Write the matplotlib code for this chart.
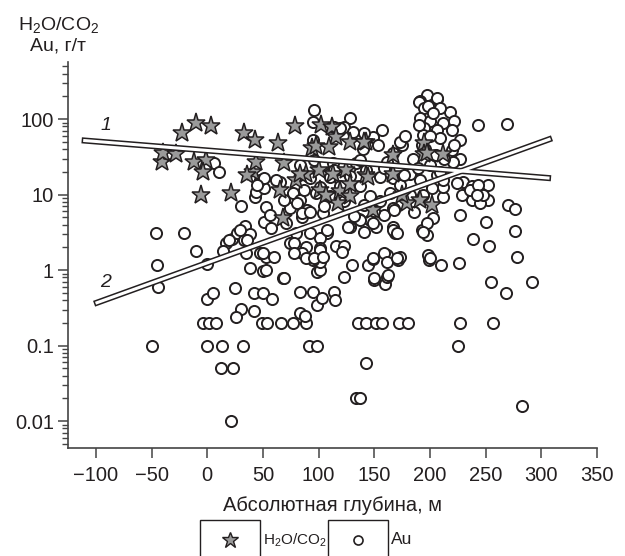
import matplotlib
matplotlib.use('Agg')
import matplotlib.pyplot as plt
from matplotlib.patches import Rectangle
from matplotlib.lines import Line2D
from matplotlib.ticker import FixedLocator, FixedFormatter, LogLocator, NullFormatter

plt.rcParams['font.family'] = ['Liberation Sans', 'DejaVu Sans']
plt.rcParams['mathtext.fontset'] = 'custom'
plt.rcParams['mathtext.rm'] = 'Liberation Sans'
plt.rcParams['mathtext.it'] = 'Liberation Sans:italic'

INK = '#231f20'

# H2O/CO2 ratio vs absolute depth (stars)
h2o_x = [-41, -40, -28, -23, -10, 3, -12, -1, -4, -6, 21, 33, 43, 64, 69, 41, 65, 68,
         79, 80, 94, 89, 102, 112, 116, 128, 143, 98, 109, 167, 195, 195, 212, 100, 113,
         125, 143, 167, 101, 119, 128, 117, 149, 179, 191, 202, 36, 83, 141, 197, 144,
         107, 175, 44, 128]
h2o_y = [27, 36, 35, 65, 89, 81, 27, 29, 20, 10, 10.5, 65, 53, 48, 26, 20, 11.5, 4.9,
         80, 15.5, 41, 19, 83, 78, 58, 50, 50, 44, 43, 33, 48, 35, 35, 21, 19,
         21, 18, 19, 11.5, 11, 9.6, 7.7, 6.2, 7.7, 8.5, 7.3, 18, 19, 50, 36, 17,
         9.8, 9.8, 27, 14]

# Au content, g/t (circles)
au_x = [-50, -45, -44, -46, -21, -10, 0, 0, 5, -4, 2, 8, 0, 13, 32, 12, 23, 21, 25, 38,
        50, 68, 42, 50, 58, 30, 26, 42, 49, 54, 66, 77, 89, 83, 88, 83, 95, 99, 91, 99,
        99, 101, 103, 114, 115, 123, 130, 144, 150, 160, 161, 135, 143, 152, 157, 172,
        180, 227, 257, 225, 143, 134, 137, 283, 255, 268, 292, 210, 199, 226, 171, 278,
        69,
        243, 269, 96, 128, 157, 175, 197, 191, 206, 218, 230, 238, 245, 252, 238, 252,
        270, 276, 227, 250, 276, 239, 253, 198, 173, 161, 149, 197, 193, 169, 167, 141,
        128, 108, 101, 89, 101, 116, 123, 101, 203, 212, 212, 168, 159, 136, 146, 152,
        200, 197, 194, 245,
        30, 53, 43, 22, 17, 27, 34, 38, 33, 14, 51, 57, 35, 47, 53, 60, 6, 11, 44, 51,
        47, 65, 77, 83, 98, 20, 29, 36, 50, 53, 74, 80, 92, 85, 95, 95, 95, 74, 85, 90,
        81, 85, 92, 104, 71, 78, 78, 89, 101, 96, 104, 121, 108, 126, 137, 149, 167, 170,
        149, 150, 162, 159, 161, 170, 167,
        206, 190, 195, 209, 191, 200, 212, 222, 195, 206, 220, 227, 194, 209, 220, 227,
        221, 173, 149, 153, 167, 185, 141, 161, 182, 206, 143, 167, 155, 212, 224, 200,
        193, 123, 131, 114, 104, 110, 119, 51, 62, 128, 134, 113,
        83, 92, 101, 110, 119, 128, 137, 146, 155, 164, 123, 105, 141, 150, 132, 87, 69,
        56, 45, 114, 96, 137, 159, 173, 182, 177, 168, 186, 191, 194, 189, 202, 209, 213,
        222, 229, 236, 243, 248, 242, 198, 203, 200, 196, 205, 190, 119, 140, 178]
au_y = [0.1, 1.16, 0.6, 3.1, 3.1, 1.8, 1.2, 0.41, 0.5, 0.2, 0.2, 0.2, 0.1, 0.1, 0.1,
        0.05, 0.05, 0.01, 0.58, 1.06, 0.97, 0.78, 0.5, 0.5, 0.41, 0.31, 0.24, 0.29, 0.2,
        0.2, 0.2, 0.2, 0.2, 0.27, 0.25, 0.51, 0.51, 0.34, 0.1, 0.1, 0.94, 1.0, 0.43, 0.51,
        0.4, 0.81, 1.16, 1.16, 0.74, 0.65, 0.81, 0.2, 0.2, 0.2, 0.2, 0.2, 0.2, 0.2, 0.2,
        0.1, 0.059, 0.02, 0.02, 0.016, 0.69, 0.5, 0.69, 1.16, 1.35, 1.24, 1.35, 1.5,
        0.78,
        83, 86, 131, 103, 71, 46, 210, 175, 185, 123, 14.6, 13, 12, 13.5, 8.5, 8.5,
        7.3, 6.4, 5.3, 4.3, 3.3, 2.6, 2.1, 1.6, 1.5, 1.6, 1.4, 2.9, 3.4, 3.1, 3.7, 3.2,
        3.7, 3.1, 2.65, 2.0, 1.95, 2.1, 2.1, 1.28, 4.9, 9.3, 12.6, 6.4, 5.3, 4.7, 4.6, 3.7,
        1.44, 4.2, 3.2, 7.7,
        7.0, 6.8, 9.3, 2.6, 2.3, 3.1, 3.8, 3.0, 2.5, 1.8, 4.3, 3.6, 1.7, 1.7, 1.5, 1.5,
        26, 20, 10.8, 12.2, 15.5, 14.6, 10.5, 8.5, 10.5, 2.5, 3.4, 2.5, 1.7, 1.0, 2.3,
        3.1, 3.1, 1.7, 1.36, 91, 53, 6.6, 5.0, 6.2,
        7.7, 5.7, 5.9, 5.7, 4.2, 2.3, 1.7, 1.44, 1.84, 1.44, 1.49, 1.73, 3.4, 3.7, 4.6,
        4.2, 3.4, 3.1, 1.44, 0.78, 0.86, 1.68, 1.28, 1.44, 6.6,
        190, 168, 139, 139, 103, 95, 89, 95, 76, 71, 71, 53, 61, 56, 39, 30, 27, 50, 58,
        45, 36, 30, 65, 27, 19, 18, 21, 16.6, 17, 15.5, 14.2, 25, 45, 78, 67, 78, 25,
        17, 15.5, 16.5, 15.5, 23, 26, 26,
        24.6, 16.6, 12.6, 9.5, 12.9, 17.6, 12.9, 9.5, 8.2, 10.5, 8.2, 7.0, 7.3, 6.0, 5.2,
        11.5, 8.5, 5.3, 13.4, 21, 28.6, 28.6, 22.4, 13.4, 9.8, 18, 6.2, 5.9, 15.6, 9.8,
        22.4, 12.2, 19.9, 30, 45, 9.8, 11.5, 13.4, 9.8, 9.8, 150, 120, 60, 40, 33, 83,
        76, 40, 60]

# trend lines 1 (H2O/CO2) and 2 (Au)
trend1_x = [-110, 306]
trend1_y = [52, 16.6]
trend2_x = [-99, 307]
trend2_y = [0.37, 54]

fig = plt.figure(figsize=(6.25, 5.56), dpi=100)
ax = fig.add_axes([0.1088, 0.1942, 0.8464, 0.6942])

ax.plot(au_x, au_y, 'o', ms=8, mfc='white', mec=INK, mew=1.4, ls='none', zorder=2)
ax.plot(h2o_x, h2o_y, '*', ms=14, mfc='#9a9a9a', mec=INK, mew=1.1, ls='none', zorder=3)

for tx, ty in [(trend1_x, trend1_y), (trend2_x, trend2_y)]:
    ax.plot(tx, ty, color=INK, lw=4.4, solid_capstyle='projecting', zorder=4)
    ax.plot(tx, ty, color='white', lw=2.2, solid_capstyle='projecting', zorder=5)

ax.text(-91, 83, '1', fontsize=14, style='italic', color=INK, ha='center', va='center')
ax.text(-91, 0.69, '2', fontsize=14, style='italic', color=INK, ha='center', va='center')

ax.set_yscale('log')
ax.set_xlim(-125, 350)
ax.set_ylim(0.0044, 570)

ax.set_xticks([-100, -50, 0, 50, 100, 150, 200, 250, 300, 350])
ax.yaxis.set_major_locator(FixedLocator([0.01, 0.1, 1, 10, 100]))
ax.yaxis.set_major_formatter(FixedFormatter(['0.01', '0.1', '1', '10', '100']))
ax.yaxis.set_minor_locator(LogLocator(base=10, subs=range(2, 10)))
ax.yaxis.set_minor_formatter(NullFormatter())

ax.spines['top'].set_visible(False)
ax.spines['right'].set_visible(False)
for s in ['left', 'bottom']:
    ax.spines[s].set_color('#444444')
    ax.spines[s].set_linewidth(1.2)

ax.tick_params(axis='both', which='major', length=7, width=1.1, color='#444444',
               labelsize=14.5, labelcolor=INK)
ax.tick_params(axis='x', which='major', pad=6)
ax.tick_params(axis='y', which='major', pad=3)
ax.tick_params(axis='y', which='minor', length=4, width=1.0, color='#444444')

ax.set_xlabel('Абсолютная глубина, м', fontsize=14.5, color=INK, labelpad=8)

fig.text(0.093, 0.955, r'H$_\mathregular{2}$O/CO$_\mathregular{2}$', fontsize=14,
         color=INK, ha='center', va='center')
fig.text(0.093, 0.918, 'Au, г/т', fontsize=14, color=INK, ha='center', va='center')

# legend drawn below the axis
W, H = 625, 556
for x0 in [200, 328]:
    fig.add_artist(Rectangle((x0 / W, -0.02), 60 / W, (H - 520) / H + 0.02,
                             transform=fig.transFigure, fill=False, ec=INK, lw=1.0))
fig.add_artist(Line2D([230 / W], [1 - 540 / H], transform=fig.transFigure, marker='*',
                      ms=12, mfc='#9a9a9a', mec=INK, mew=1.0, ls='none'))
fig.add_artist(Line2D([358 / W], [1 - 540 / H], transform=fig.transFigure, marker='o',
                      ms=6.5, mfc='white', mec=INK, mew=1.2, ls='none'))
fig.text(263 / W, 1 - 540 / H, r'H$_\mathregular{2}$O/CO$_\mathregular{2}$', fontsize=11,
         color=INK, ha='left', va='center')
fig.text(391 / W, 1 - 540 / H, 'Au', fontsize=12.5, color=INK, ha='left', va='center')

fig.savefig('out.png', dpi=100)
